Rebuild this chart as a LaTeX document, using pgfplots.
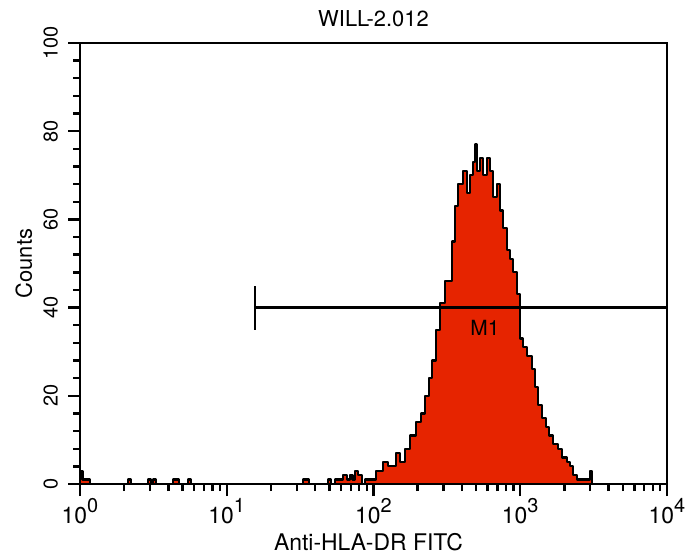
\documentclass[border=0pt]{standalone}
\usepackage{fontspec}
\setmainfont{TeX Gyre Heros}
\usepackage{pgfplots}
\pgfplotsset{compat=1.18}
\definecolor{histred}{RGB}{230,36,0}
\newcommand{\tl}[1]{10\raisebox{11bp}{\fontsize{20}{20}\selectfont #1}}
\pgfplotstableread{
x y
1 3
1.04 1
1.17 0
2.124 1
2.226 0
2.907 1
3.046 0
3.144 1
3.296 0
4.3 1
4.727 0
5.444 1
5.706 0
33.0 1
36.35 0
48.97 1
51.33 0
55.0 1
62.0 2
66.0 1
69.15 2
72.0 1
74.79 3
78.0 2
83.47 0
87.0 1
104.0 3
116.1 5
125.5 4
142.3 7
151.5 5
163.9 8
177.3 11
194.8 14
210.7 16
224.4 20
238.9 24
250.4 28
266.7 35
284.0 41
307.1 46
321.9 46
342.7 55
359.3 63
376.6 68
407.3 71
433.7 66
454.6 70
476.4 73
491.6 77
507.3 71
531.8 74
557.4 70
593.5 74
622.2 71
652.2 65
694.4 68
727.8 62
762.9 58
812.3 53
851.4 51
892.5 48
950.4 43
996.1 33
1044 31
1112 29
1203 26
1261 22
1321 18
1407 15
1498 13
1570 11
1672 9
1808 8
1925 6
2083 5
2183 4
2288 2
2436 1
2895 1
2988 3
3083 0
10000 0
}\histdata
\begin{document}
\begin{tikzpicture}
\begin{axis}[
  scale only axis,
  width=587bp, height=441bp,
  xmode=log,
  xmin=1, xmax=10000, ymin=0, ymax=100,
  xtick={1,10,100,1000,10000},
  xticklabels={\tl{0},\tl{1},\tl{2},\tl{3},\tl{4}},
  minor xtick={2,3,4,5,6,7,8,9,20,30,40,50,60,70,80,90,200,300,400,500,600,700,800,900,2000,3000,4000,5000,6000,7000,8000,9000},
  ytick={0,20,40,60,80,100},
  minor y tick num=4,
  tick align=outside,
  xtick pos=left, ytick pos=left,
  major tick length=12bp, minor tick length=7bp,
  every tick/.style={black, line width=2.4bp},
  axis line style={line width=2.4bp},
  xticklabel style={anchor=base, inner sep=0pt, font=\fontsize{23}{23}\selectfont},
  xticklabel shift=27bp,
  yticklabel style={rotate=90, anchor=south, inner sep=0pt, font=\fontsize{20}{20}\selectfont},
  yticklabel shift=10bp,
  /pgf/number format/assume math mode=true,
  clip=false,
]
\addplot[const plot mark left, fill=histred, draw=black, line width=2.2bp, line join=round] table {\histdata} \closedcycle;
\addplot[black, line width=2.4bp] coordinates {(15.57,40) (10000,40)};
\addplot[black, line width=2.6bp] coordinates {(15.57,35) (15.57,45)};
\node[font=\fontsize{21}{21}\selectfont] at (axis cs:575,35.4) {M1};
\end{axis}
\node[rotate=90, anchor=base, font=\fontsize{22}{22}\selectfont] at ([xshift=-48bp]current axis.west) {Counts};
\node[anchor=base, font=\fontsize{23}{23}\selectfont] at ([yshift=-66bp,xshift=-5bp]current axis.south) {Anti-HLA-DR FITC};
\node[anchor=base, font=\fontsize{22}{22}\selectfont] at ([yshift=16bp]current axis.north) {WILL-2.012};
\pgfresetboundingbox
\path[use as bounding box] ([shift={(-80bp,-71bp)}]current axis.south west) rectangle ++(693bp,555bp);
\end{tikzpicture}
\end{document}
